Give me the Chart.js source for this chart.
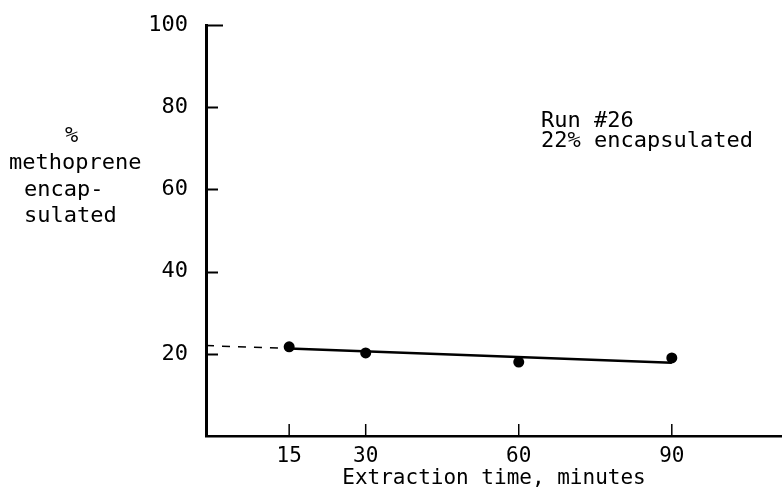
<!DOCTYPE html>
<html>
<head>
<meta charset="utf-8">
<script src="https://cdn.jsdelivr.net/npm/chart.js@4/dist/chart.umd.min.js"></script>
<style>
  html, body { margin: 0; padding: 0; background: #fff; }
  #wrap { width: 782px; height: 495px; }
</style>
</head>
<body>
<div id="wrap"><canvas id="c" width="782" height="495"></canvas></div>
<script>
// Measured methoprene retention versus extraction time (Run #26)
const extractionMinutes = [15, 30, 60, 90];
const percentEncapsulated = [21.7, 20.2, 18.0, 19.0];

// Fitted line through the measurements, and its dashed extrapolation back to the axis
const fitMinutes = [15, 90];
const fitPercent = [21.3, 17.8];
const interceptMinutes = [-1.3, 15];
const interceptPercent = [22, 21.3];

const xTicks = [15, 30, 60, 90];
const yTicks = [20, 40, 60, 80, 100];

const yTitleLines = ['%', 'methoprene', 'encap-', 'sulated'];
const noteLines = ['Run #26', '22% encapsulated'];
const xTitle = 'Extraction time, minutes';

const FONT = '"DejaVu Sans Mono", "Liberation Mono", monospace';
const INK = '#000';

const toPoints = (xs, ys) => xs.map((v, i) => ({ x: v, y: ys[i] }));

// Inward tick marks plus the free-standing labels
const decorations = {
  id: 'decorations',
  afterDraw(chart) {
    const { ctx } = chart;
    const x = chart.scales.x, y = chart.scales.y;
    ctx.save();
    ctx.strokeStyle = INK;
    ctx.lineCap = 'butt';

    ctx.lineWidth = 2;
    yTicks.forEach(v => {
      const py = Math.round(y.getPixelForValue(v)) + 0.5;
      const len = v === 100 ? 17 : 12;
      ctx.beginPath();
      ctx.moveTo(x.left, py);
      ctx.lineTo(x.left + len, py);
      ctx.stroke();
    });

    ctx.lineWidth = 1.5;
    xTicks.forEach(v => {
      const px = x.getPixelForValue(v);
      ctx.beginPath();
      ctx.moveTo(px, y.bottom);
      ctx.lineTo(px, y.bottom - 12);
      ctx.stroke();
    });

    ctx.fillStyle = INK;
    ctx.font = '22px ' + FONT;
    ctx.textBaseline = 'middle';
    ctx.textAlign = 'left';
    const titlePos = [[65, 136], [9, 163], [24, 190], [24, 216]];
    yTitleLines.forEach((t, i) => ctx.fillText(t, titlePos[i][0], titlePos[i][1]));

    const notePos = [[541, 121], [541, 141]];
    noteLines.forEach((t, i) => ctx.fillText(t, notePos[i][0], notePos[i][1]));
    ctx.restore();
  }
};

new Chart(document.getElementById('c'), {
  type: 'scatter',
  data: {
    datasets: [
      {
        data: toPoints(interceptMinutes, interceptPercent),
        showLine: true,
        borderColor: INK,
        borderWidth: 1.5,
        borderDash: [8, 8],
        pointRadius: 0
      },
      {
        data: toPoints(fitMinutes, fitPercent),
        showLine: true,
        borderColor: INK,
        borderWidth: 2.5,
        pointRadius: 0
      },
      {
        data: toPoints(extractionMinutes, percentEncapsulated),
        showLine: false,
        pointRadius: 5.5,
        pointBackgroundColor: INK,
        pointBorderColor: INK,
        pointBorderWidth: 0
      }
    ]
  },
  options: {
    responsive: false,
    devicePixelRatio: 1,
    animation: false,
    layout: { autoPadding: false, padding: { top: 25, right: 0, bottom: 0, left: 0 } },
    plugins: { legend: { display: false }, tooltip: { enabled: false } },
    scales: {
      x: {
        type: 'linear',
        min: -1.3,
        max: 111.6,
        afterBuildTicks: s => { s.ticks = xTicks.map(v => ({ value: v })); },
        afterFit: s => { s.height = 59; s.paddingLeft = 0; s.paddingRight = 0; },
        grid: { display: false, drawTicks: false },
        border: { display: true, color: INK, width: 2.5 },
        ticks: {
          color: INK,
          font: { family: FONT, size: 21 },
          padding: 8,
          maxRotation: 0,
          autoSkip: false
        },
        title: {
          display: true,
          text: xTitle,
          color: INK,
          font: { family: FONT, size: 21 },
          padding: { top: 0, bottom: 4 }
        }
      },
      y: {
        min: 0,
        max: 100,
        afterBuildTicks: s => { s.ticks = yTicks.map(v => ({ value: v })); },
        afterFit: s => { s.width = 206; s.paddingTop = 0; s.paddingBottom = 0; },
        grid: { display: false, drawTicks: false },
        border: { display: true, color: INK, width: 3 },
        ticks: {
          color: INK,
          font: { family: FONT, size: 22 },
          padding: 18
        }
      }
    }
  },
  plugins: [decorations]
});
</script>
</body>
</html>
